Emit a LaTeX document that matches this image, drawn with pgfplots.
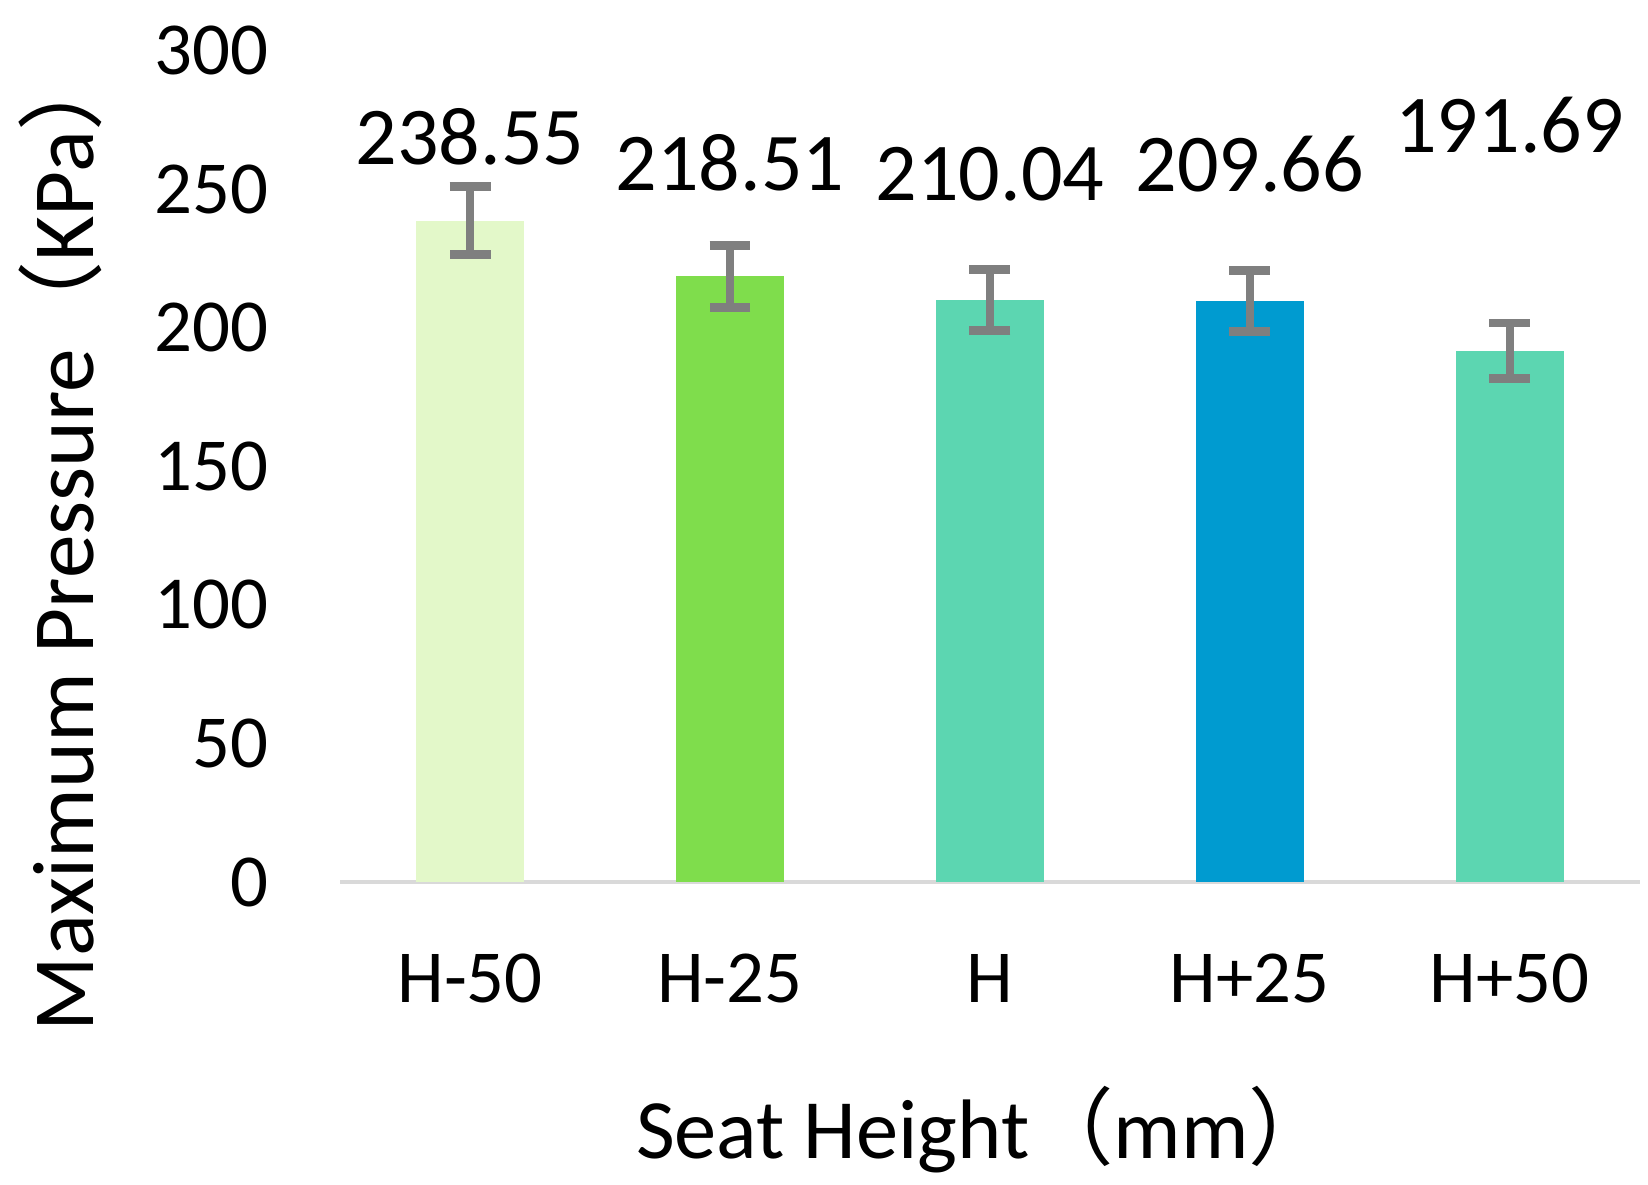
\documentclass[border=0pt]{standalone}
\usepackage{fontspec}
\setmainfont{Carlito}
\newfontfamily\cjk{Noto Sans CJK SC}
\usepackage{pgfplots}
\pgfplotsset{compat=1.18}

\definecolor{barA}{HTML}{E3F8C9}
\definecolor{barB}{HTML}{7FDD4C}
\definecolor{barC}{HTML}{5CD6B1}
\definecolor{barD}{HTML}{009BD0}
\definecolor{errgray}{HTML}{7F7F7F}
\definecolor{axgray}{HTML}{D9D9D9}

\pgfplotsset{
  errstyle/.style={
    error bars/.cd, y dir=both, y explicit,
    error bar style={draw=errgray, line width=2pt},
    error mark=-,
    error mark options={draw=errgray, line width=2.2pt, mark size=5.1pt, rotate=90},
  },
}

\begin{document}
\begin{tikzpicture}
\begin{axis}[
  scale only axis,
  width=324.7pt, height=207.8pt,
  clip=false,
  ymin=0, ymax=300, ytick={0,50,...,300},
  xmin=-0.5, xmax=4.5, xtick={0,1,2,3,4},
  xticklabels={H-50,H-25,H,H+25,H+50},
  axis x line*=bottom, axis y line*=left,
  x axis line style={draw=axgray, line width=0.8pt},
  y axis line style={draw=none},
  major tick length=0pt,
  /pgf/number format/assume math mode=true,
  yticklabel style={anchor=east, inner sep=0pt, xshift=-17.7pt, font=\fontsize{18.7}{22}\selectfont},
  xticklabel style={anchor=north, inner sep=0pt, yshift=-17.8pt, font=\fontsize{18.7}{22}\selectfont},
  xlabel={Seat Height{\cjk （}mm{\cjk ）}},
  ylabel={Maximum Pressure{\cjk （}KPa{\cjk ）}},
  xlabel style={at={(axis description cs:0.496,-0.298)}, anchor=center, inner sep=0pt, font=\fontsize{21.1}{24}\selectfont},
  ylabel style={at={(axis description cs:-0.215,0.414)}, anchor=center, inner sep=0pt, font=\fontsize{21.8}{24}\selectfont},
  ybar, bar width=27pt, bar shift=0pt,
]
\addplot[fill=barA, draw=none, errstyle] coordinates {(0,238.55) +- (0,12.3)};
\addplot[fill=barB, draw=none, errstyle] coordinates {(1,218.51) +- (0,11.2)};
\addplot[fill=barC, draw=none, errstyle] coordinates {(2,210.04) +- (0,11.0)};
\addplot[fill=barD, draw=none, errstyle] coordinates {(3,209.66) +- (0,11.0)};
\addplot[fill=barC, draw=none, errstyle] coordinates {(4,191.69) +- (0,10.0)};

\begin{scope}[every node/.style={font=\fontsize{20.5}{24}\selectfont, inner sep=0pt}]
\node at (axis cs:0,268.8) {238.55};
\node at (axis cs:1,259.6) {218.51};
\node at (axis cs:2,255.4) {210.04};
\node at (axis cs:3,258.9) {209.66};
\node at (axis cs:4,273.0) {191.69};
\end{scope}
\end{axis}
\path[use as bounding box] (-85pt,-75.5pt) rectangle (326.8pt,220.4pt);
\end{tikzpicture}
\end{document}
